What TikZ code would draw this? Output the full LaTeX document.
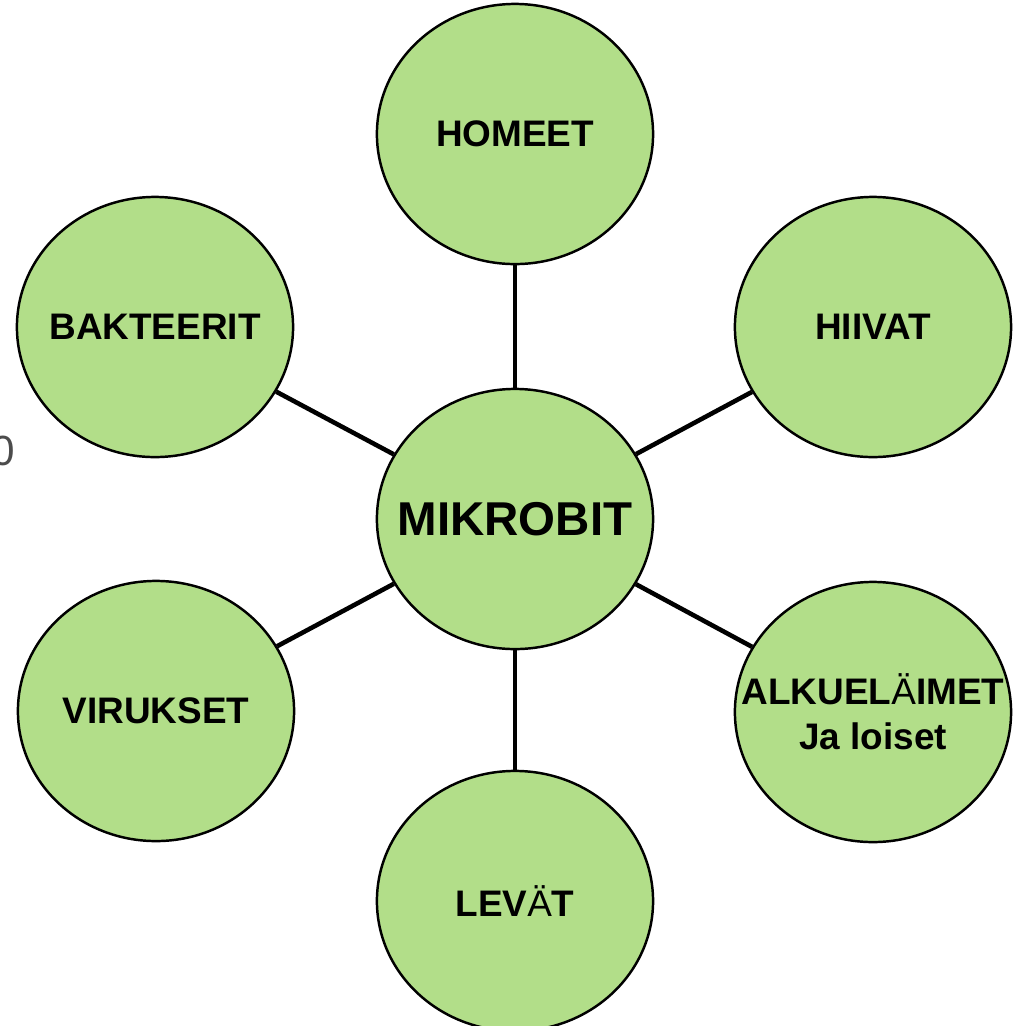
\documentclass[tikz,border=0pt]{standalone}
\usepackage{fontspec}
\setmainfont{Liberation Sans}
\usetikzlibrary{shapes.geometric}
\definecolor{leafgreen}{RGB}{178,222,137}
\newcommand{\nowidth}[1]{\makebox[0pt]{#1}}

\begin{document}
\begin{tikzpicture}[x=0.01cm, y=-0.01cm,
  bubble/.style={ellipse, draw, line width=0.7pt, fill=leafgreen,
    minimum width=2.76cm, minimum height=2.6cm, inner sep=0pt, align=center,
    font=\bfseries\fontsize{10.5}{12.7}\selectfont},
  spoke/.style={line width=1.3pt}]

\useasboundingbox (0,0) rectangle (1021,1026);

\node[text=black!70, font=\fontsize{12}{14}\selectfont] (stray) at (3,451) {0};

\node[bubble] (homeet) at (515,134) {\nowidth{HOMEET}};
\node[bubble] (bakteerit) at (155,327) {\nowidth{BAKTEERIT}};
\node[bubble] (hiivat) at (873,327) {\nowidth{HIIVAT}};
\node[bubble, font=\bfseries\fontsize{13.5}{16}\selectfont] (mikrobit) at (515,519) {\nowidth{MIKROBIT}};
\node[bubble] (virukset) at (156,711) {\nowidth{VIRUKSET}};
\node[bubble] (alkue) at (873,712) {\nowidth{ALKUEL{\mdseries Ä}IMET}\\\nowidth{Ja loiset}};
\node[bubble] (levat) at (515,901) {\nowidth{LEV{\mdseries Ä}T}};

\draw[spoke] (mikrobit) -- (homeet);
\draw[spoke] (mikrobit) -- (bakteerit);
\draw[spoke] (mikrobit) -- (hiivat);
\draw[spoke] (mikrobit) -- (virukset);
\draw[spoke] (mikrobit) -- (alkue);
\draw[spoke] (mikrobit) -- (levat);

\end{tikzpicture}
\end{document}
